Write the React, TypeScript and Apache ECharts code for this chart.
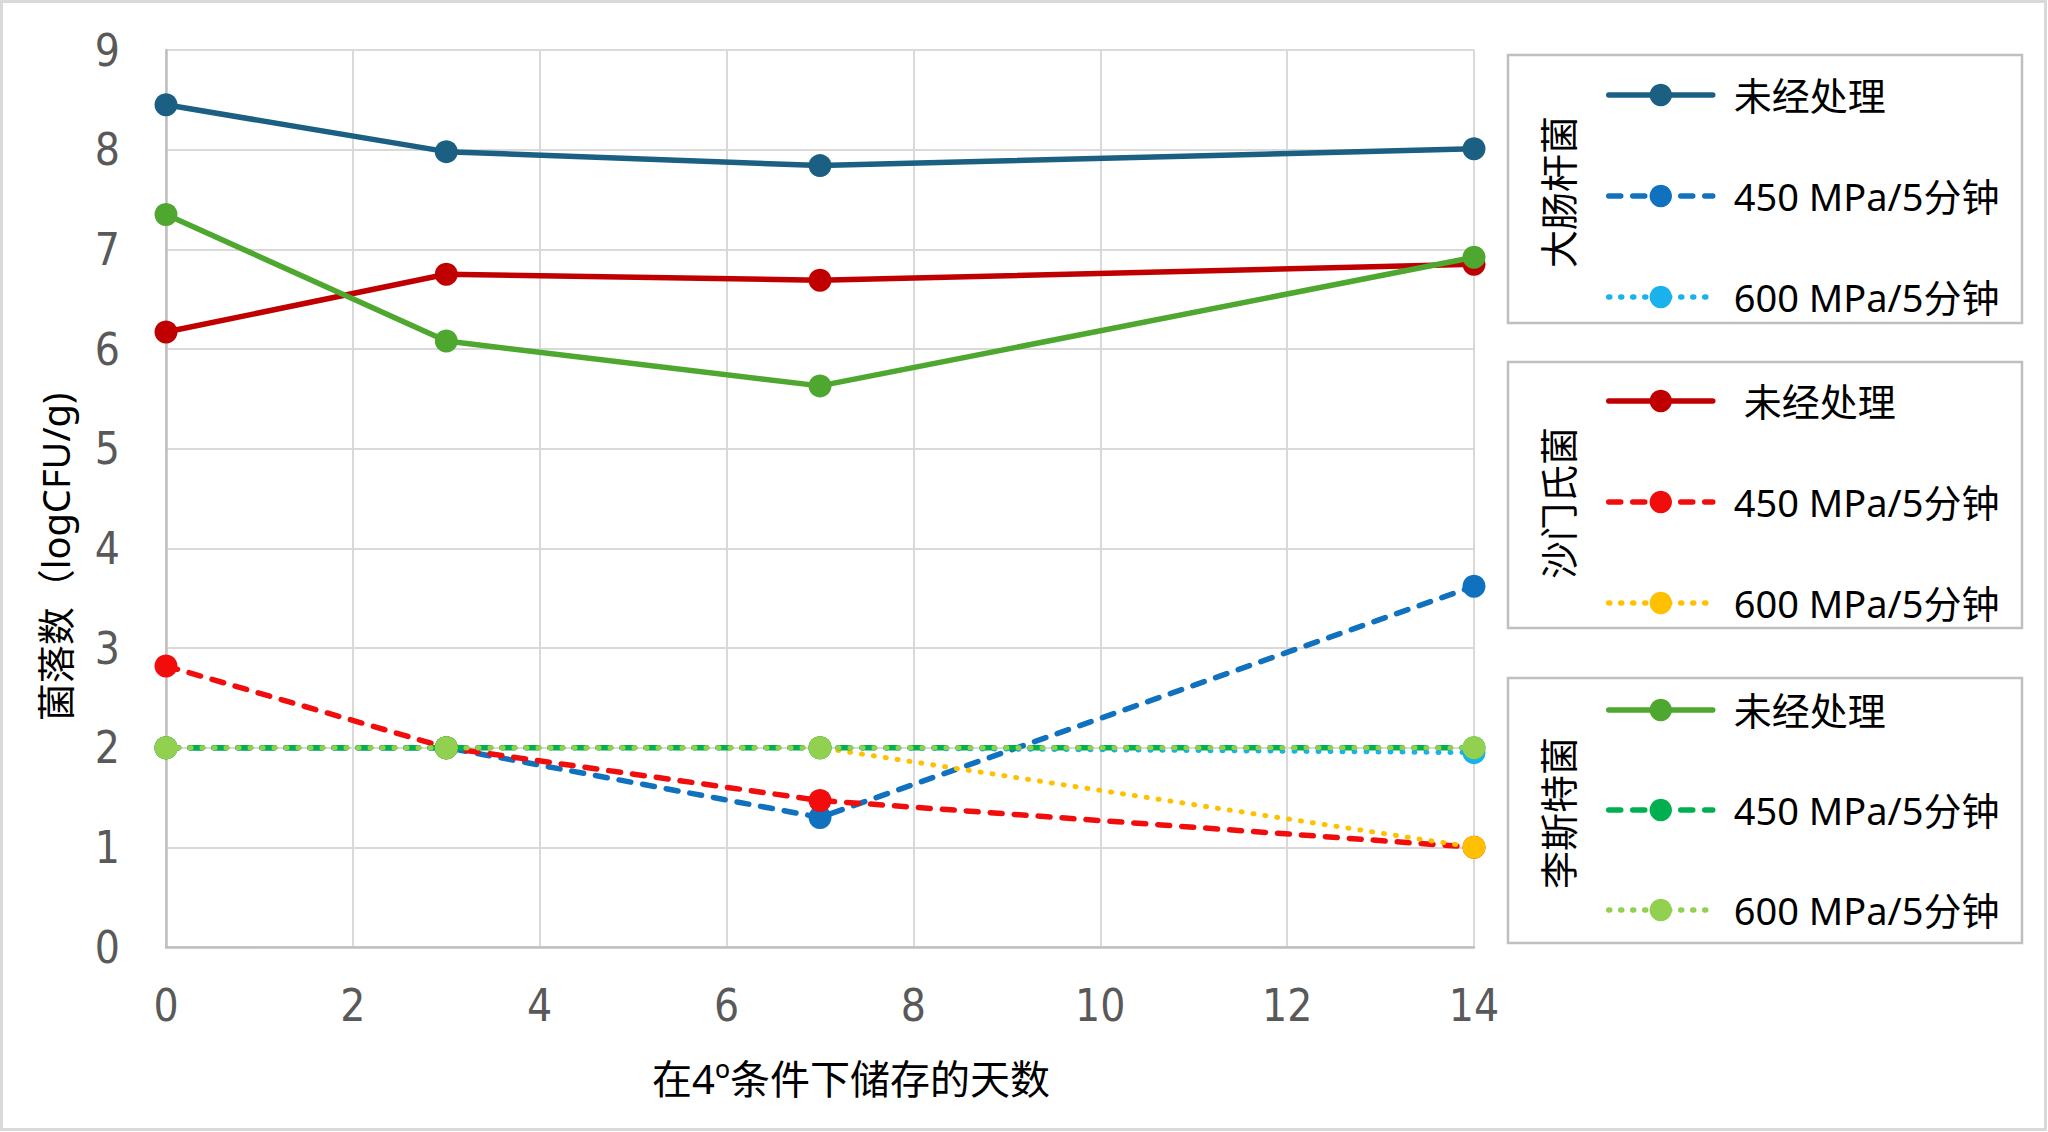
import React, { useEffect, useRef } from "react";
import * as echarts from "echarts";

const days = [0, 3, 7, 14];
const xTicks = [0, 2, 4, 6, 8, 10, 12, 14];
const yTicks = [0, 1, 2, 3, 4, 5, 6, 7, 8, 9];

const groups = ["大肠杆菌", "沙门氏菌", "李斯特菌"];
const treatmentLabels = [
  ["未经处理", "450 MPa/5分钟", "600 MPa/5分钟"],
  [" 未经处理", "450 MPa/5分钟", "600 MPa/5分钟"],
  ["未经处理", "450 MPa/5分钟", "600 MPa/5分钟"],
];

// 大肠杆菌
const ecoliUntreated = [8.45, 7.98, 7.84, 8.01];
const ecoli450 = [2.0, 2.0, 1.3, 3.62];
const ecoli600 = [2.0, 2.0, 2.0, 1.95];
// 沙门氏菌
const salmUntreated = [6.17, 6.75, 6.69, 6.85];
const salm450 = [2.82, 2.0, 1.47, 1.0];
const salm600 = [2.0, 2.0, 2.0, 1.0];
// 李斯特菌
const listUntreated = [7.35, 6.08, 5.63, 6.92];
const list450 = [2.0, 2.0, 2.0, 2.0];
const list600 = [2.0, 2.0, 2.0, 2.0];

const groupValues = [
  [ecoliUntreated, ecoli450, ecoli600],
  [salmUntreated, salm450, salm600],
  [listUntreated, list450, list600],
];
const groupColors = [
  ["#1B5F83", "#1071BE", "#1AB2EC"],
  ["#C00000", "#F20D0D", "#FFC000"],
  ["#4EA72E", "#00B050", "#92D050"],
];

const xTitle = "在4º条件下储存的天数";
const yTitle = "菌落数（logCFU/g)";

const FONT = '"Noto Sans", "Noto Sans CJK SC", sans-serif';
const TICK_FONT = '"Liberation Sans Narrow", "DejaVu Sans Condensed", "Noto Sans", sans-serif';

export default function App() {
  const ref = useRef<HTMLDivElement>(null);

  useEffect(() => {
    if (!ref.current) return;
    const chart = echarts.init(ref.current, undefined, { renderer: "svg" });

    const dashStyles = [
      { type: "solid", width: 5.5, cap: "round" },
      { type: [12, 12], width: 5.5, cap: "round" },
      { type: [1, 11], width: 5, cap: "round" },
    ];

    const series: any[] = [];
    groups.forEach((g, gi) => {
      groupValues[gi].forEach((vals, ti) => {
        series.push({
          type: "line",
          name: g + "|" + ti,
          data: days.map((d, i) => [d, vals[i]]),
          symbol: "circle",
          symbolSize: 23,
          showSymbol: true,
          color: groupColors[gi][ti],
          itemStyle: { color: groupColors[gi][ti] },
          lineStyle: { color: groupColors[gi][ti], ...dashStyles[ti] },
          z: 2 + gi * 3 + ti,
        });
      });
    });

    const legendTops = [75, 381, 690];
    const legendGaps = [61, 61, 60];
    const legends = groups.map((g, gi) => ({
      orient: "vertical",
      left: 1606,
      top: legendTops[gi],
      padding: 0,
      itemGap: legendGaps[gi],
      itemWidth: 104,
      itemHeight: 28,
      selectedMode: false,
      data: [0, 1, 2].map((ti) => g + "|" + ti),
      lineStyle: { width: 5.5, cap: "round" },
      formatter: (name: string) => {
        const ti = Number(name.split("|")[1]);
        return treatmentLabels[gi][ti];
      },
      textStyle: {
        fontFamily: FONT,
        fontSize: 38,
        color: "#000000",
        lineHeight: 40,
        padding: [0, 0, 0, 16],
      },
    }));

    const boxes = [
      { y: 55, h: 268 },
      { y: 362, h: 266 },
      { y: 678, h: 265 },
    ];
    const titleCenters = [192, 503, 813];

    const graphics: any[] = [
      {
        type: "rect",
        shape: { x: 1.5, y: 1.5, width: 2044, height: 1128 },
        style: { fill: "none", stroke: "#D9D9D9", lineWidth: 3 },
        silent: true,
      },
      ...boxes.map((b) => ({
        type: "rect",
        shape: { x: 1508, y: b.y, width: 514, height: b.h },
        style: { fill: "none", stroke: "#BFBFBF", lineWidth: 2.5 },
        silent: true,
      })),
      ...groups.map((g, gi) => ({
        type: "text",
        x: 1558,
        y: titleCenters[gi],
        rotation: Math.PI / 2,
        style: {
          text: g,
          fontFamily: FONT,
          fontSize: 38,
          fill: "#000000",
          align: "center",
          verticalAlign: "middle",
        },
        silent: true,
      })),
      {
        type: "text",
        x: 851,
        y: 1078,
        style: {
          text: xTitle,
          fontFamily: FONT,
          fontSize: 40,
          fill: "#000000",
          align: "center",
          verticalAlign: "middle",
        },
        silent: true,
      },
      {
        type: "text",
        x: 55,
        y: 557,
        rotation: Math.PI / 2,
        style: {
          text: yTitle,
          fontFamily: FONT,
          fontSize: 38,
          fill: "#000000",
          align: "center",
          verticalAlign: "middle",
        },
        silent: true,
      },
    ];

    chart.setOption({
      animation: false,
      backgroundColor: "#FFFFFF",
      grid: { left: 166, right: 574, top: 50, bottom: 185, containLabel: false },
      xAxis: {
        type: "value",
        min: xTicks[0],
        max: xTicks[xTicks.length - 1],
        interval: 2,
        axisLine: { show: true, lineStyle: { color: "#BFBFBF", width: 2.5 } },
        axisTick: { show: false },
        splitLine: { show: true, lineStyle: { color: "#D9D9D9", width: 2 } },
        axisLabel: {
          fontFamily: TICK_FONT,
          fontSize: 44,
          color: "#595959",
          margin: 36,
        },
      },
      yAxis: {
        type: "value",
        min: yTicks[0],
        max: yTicks[yTicks.length - 1],
        interval: 1,
        axisLine: { show: true, lineStyle: { color: "#BFBFBF", width: 2.5 } },
        axisTick: { show: false },
        splitLine: { show: true, lineStyle: { color: "#D9D9D9", width: 2 } },
        axisLabel: {
          fontFamily: TICK_FONT,
          fontSize: 44,
          color: "#595959",
          margin: 46,
        },
      },
      legend: legends,
      graphic: graphics,
      series,
    });

    return () => {
      chart.dispose();
    };
  }, []);

  return (
    <div
      ref={ref}
      style={{ position: "absolute", left: 0, top: 0, width: 2048, height: 1132, background: "#fff" }}
    />
  );
}
